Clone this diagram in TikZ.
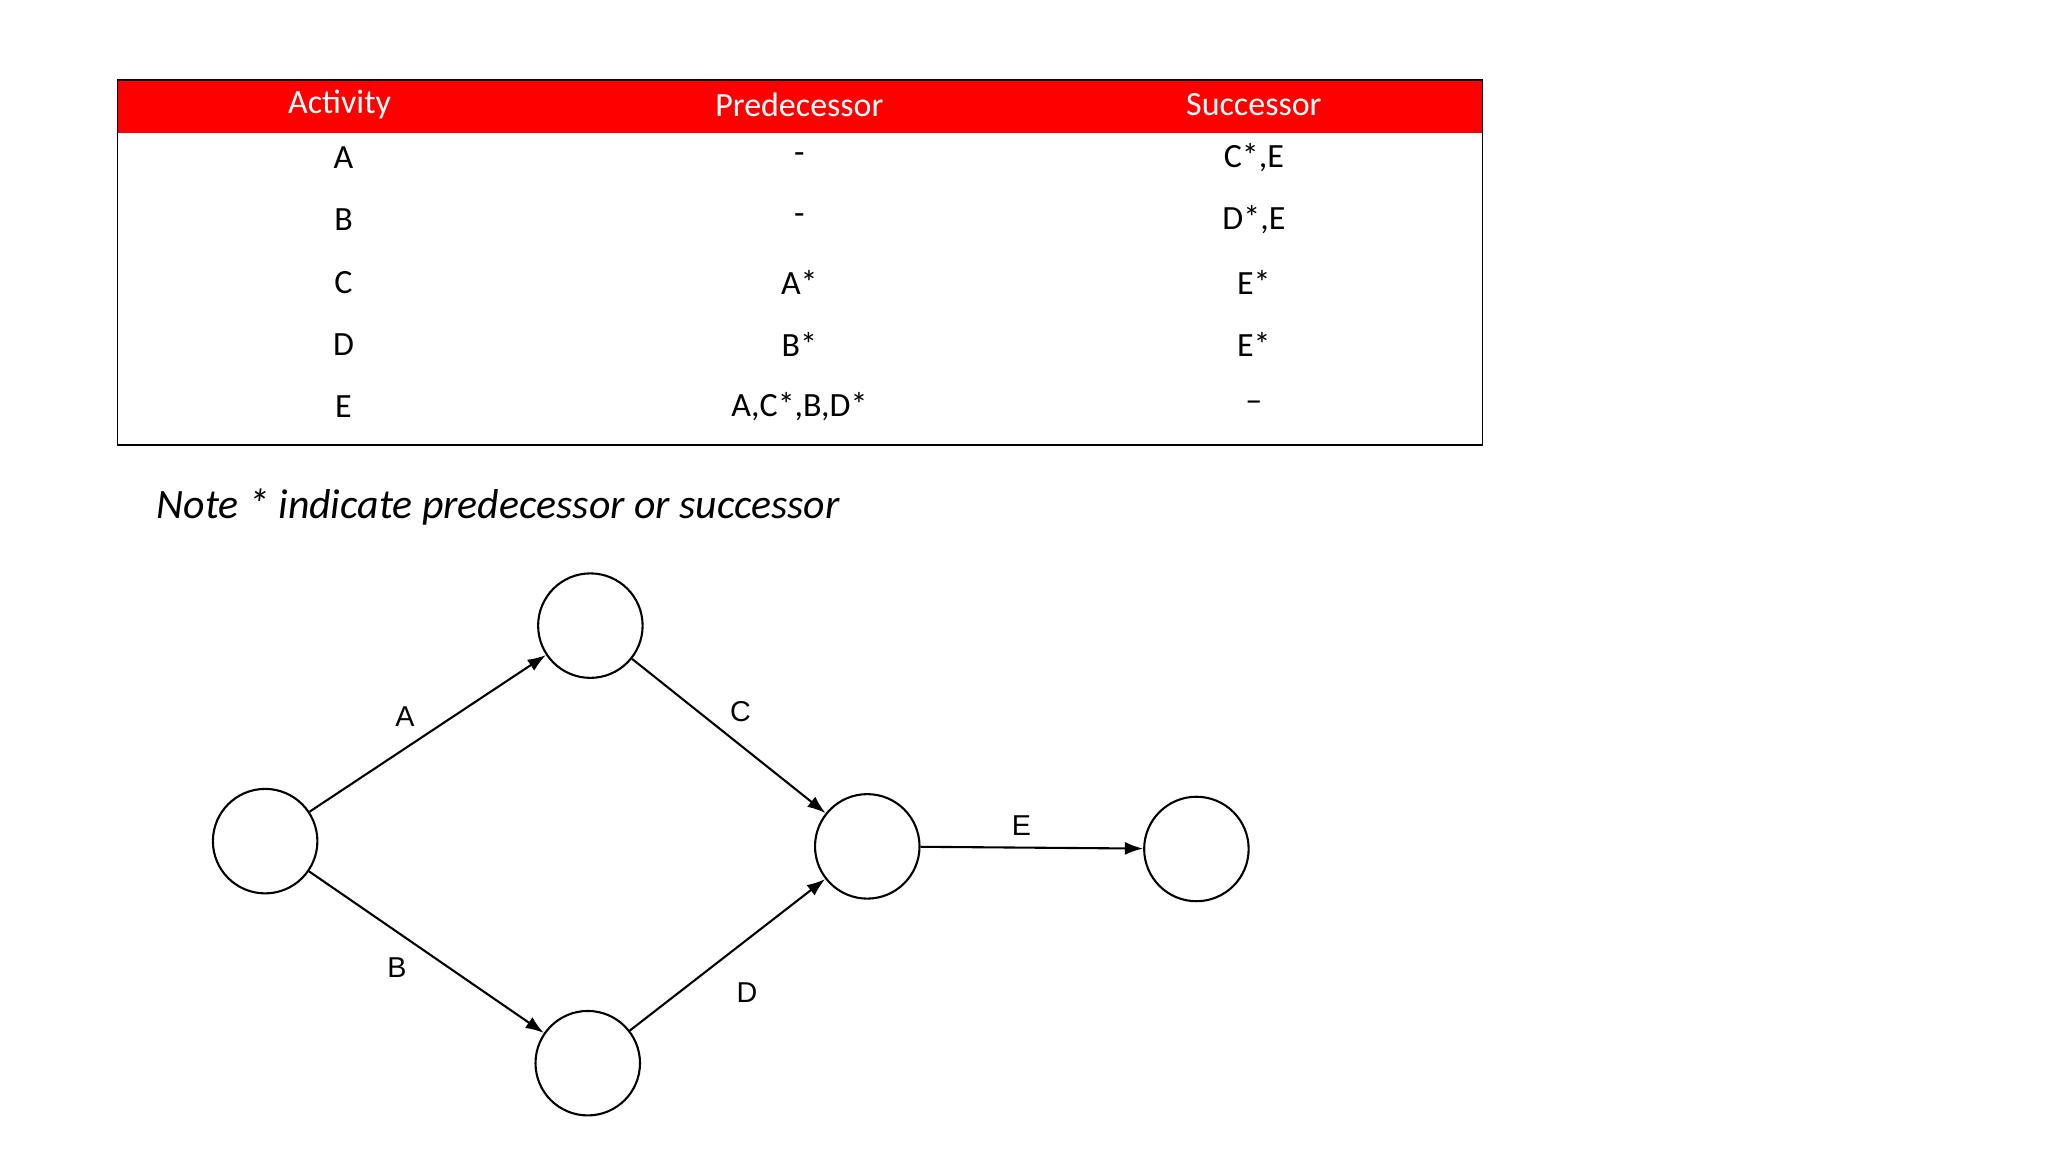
\documentclass[tikz,border=0pt]{standalone}
\usepackage{fontspec}
\setmainfont{Carlito}
\newfontfamily\lab{Liberation Sans}
\usetikzlibrary{arrows.meta}
\definecolor{hdr}{RGB}{255,0,0}
\begin{document}
\begin{tikzpicture}[x=0.5pt,y=-0.5pt,
  cell/.style={font=\fontsize{13}{15}\selectfont},
  hcell/.style={font=\fontsize{13}{15}\selectfont,text=white},
  ev/.style={circle,draw,line width=0.8pt,minimum size=40pt,inner sep=0pt},
  act/.style={line width=0.8pt,-{Latex[length=7pt,width=5pt]}},
  albl/.style={font=\lab\fontsize{11}{13}\selectfont}]
\useasboundingbox (0,0) rectangle (1568,882);
\fill[hdr] (90,61) rectangle (1135,102);
\draw[line width=0.7pt] (90,61) rectangle (1135,341);
\node[hcell] (h1) at (260,80) {Activity};
\node[hcell] (h2) at (612,80) {Predecessor};
\node[hcell] (h3) at (960,80) {Successor};
\foreach \y/\a/\p/\s [count=\i] in {121/A/-/{C*,E},168/B/-/{D*,E},216/C/A*/E*,264/D/B*/E*,311/E/{A,C*,B,D*}/--}{
  \node[cell] (r\i a) at (263,\y) {\a};
  \node[cell] (r\i p) at (612,\y) {\p};
  \node[cell] (r\i s) at (960,\y) {\s};
}
\node[anchor=west,font=\itshape\fontsize{16}{19}\selectfont] (note) at (113,388) {Note * indicate predecessor or successor};
\node[ev] (n1) at (203,644) {};
\node[ev] (n2) at (452,479) {};
\node[ev] (n3) at (664,648) {};
\node[ev] (n4) at (916,650) {};
\node[ev] (n5) at (450,814) {};
\draw[act] (n1) -- (n2);
\draw[act] (n2) -- (n3);
\draw[act] (n1) -- (n5);
\draw[act] (n5) -- (n3);
\draw[act] (n3) -- (n4);
\node[albl] (la) at (310,549) {A};
\node[albl] (lc) at (567,545) {C};
\node[albl] (le) at (782,632) {E};
\node[albl] (lb) at (304,741) {B};
\node[albl] (ld) at (572,760) {D};
\end{tikzpicture}
\end{document}
